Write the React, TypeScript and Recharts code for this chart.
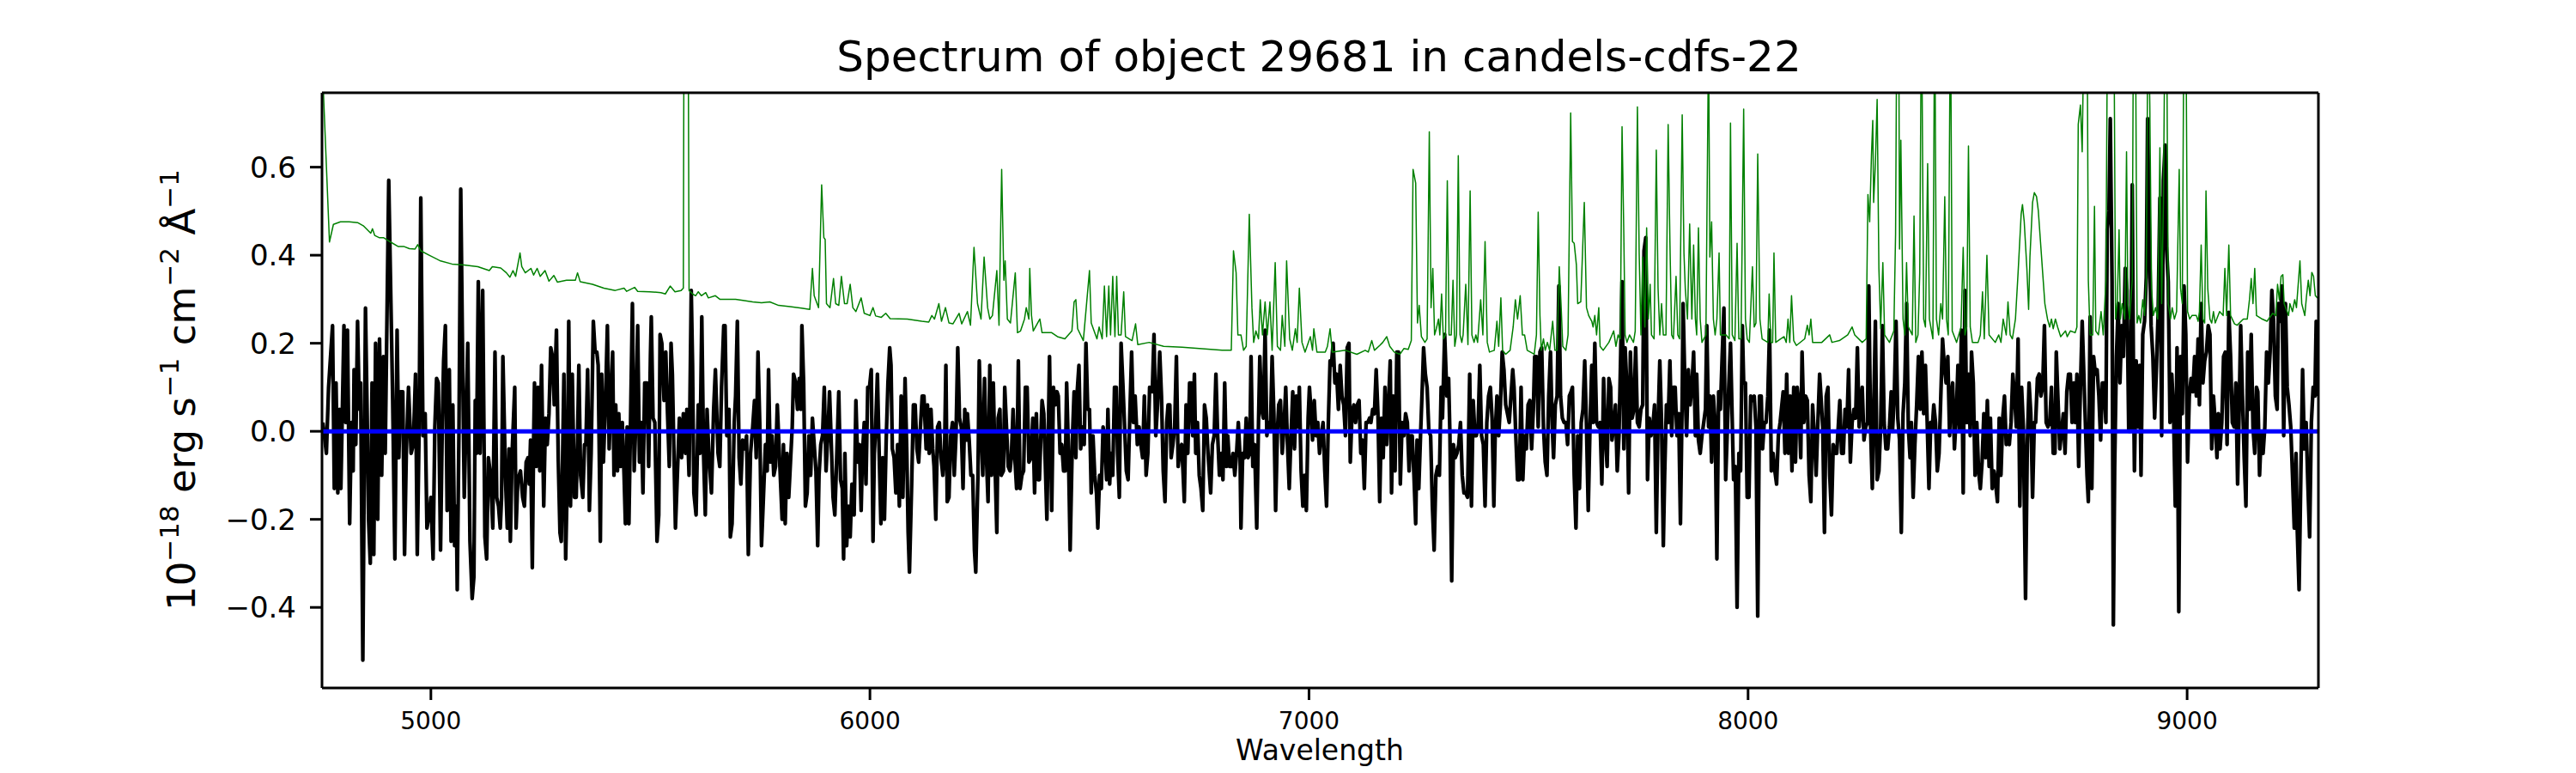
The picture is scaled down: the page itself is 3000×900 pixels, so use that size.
import React from 'react';
import { LineChart, Line, XAxis, YAxis, ReferenceLine } from 'recharts';

type P = [number, number];

const xTicks = [5000, 6000, 7000, 8000, 9000];
const yTicks = [-0.4, -0.2, 0, 0.2, 0.4, 0.6];
const waveRange: [number, number] = [4752, 9299];
const fluxRange: [number, number] = [-0.583, 0.769];

const titleText = 'Spectrum of object 29681 in candels-cdfs-22';
const xLabelText = 'Wavelength';

// observed spectrum (black)
const flux1: P[] = [[4754,0.02],[4762,-0.05],[4767,0.10],[4776,0.24],[4780,-0.13],[4784,0.11],[4788,-0.14],[4792,0.05],[4795,-0.13],[4802,0.24],[4806,0.02],[4810,0.23],[4815,-0.21],[4819,0.02],[4823,-0.09],[4825,0.14],[4829,-0.03],[4833,0.25],[4837,0.05],[4840,0.11],[4845,-0.52],[4851,0.28],[4855,0.03],[4858,-0.20],[4862,-0.30],[4866,0.11],[4870,-0.28],[4874,0.20],[4879,-0.20],[4883,0.21],[4888,-0.10],[4892,0.17],[4896,-0.05],[4904,0.57],[4909,0.29],[4913,0.07],[4918,-0.29],[4923,0.23],[4927,-0.06],[4931,0.09],[4936,0.09],[4940,-0.28],[4944,-0.05],[4949,0.10],[4955,-0.05],[4960,-0.03],[4965,0.13],[4969,-0.28],[4973,-0.01],[4977,0.53],[4982,-0.01],[4987,0.04],[4991,-0.22],[4996,-0.19],[5000,-0.15],[5005,-0.29],[5009,0.01],[5013,0.12],[5017,0.11],[5022,-0.27],[5026,0.02],[5029,0.16],[5033,0.24],[5037,-0.18],[5042,0.14],[5046,-0.25],[5050,0.06],[5054,-0.26],[5058,-0.17],[5060,-0.36],[5064,0.01],[5068,0.55],[5073,0.10],[5076,-0.15],[5079,-0.02],[5084,0.20],[5089,-0.25],[5094,-0.38],[5098,-0.33],[5101,0.07],[5104,-0.05],[5108,0.34],[5112,-0.05],[5118,0.32],[5123,-0.24],[5127,-0.29],[5131,-0.06],[5136,-0.10],[5141,-0.22],[5146,0.18],[5150,-0.15],[5154,-0.17],[5158,-0.22],[5161,-0.15],[5164,0.17],[5170,-0.11],[5174,-0.22],[5178,-0.04],[5181,-0.25],[5185,-0.05],[5191,0.10],[5194,-0.22],[5198,-0.11],[5204,-0.09],[5209,-0.15],[5213,-0.17],[5217,-0.07],[5221,-0.06],[5224,-0.12],[5227,-0.02],[5231,-0.31],[5234,-0.02],[5236,0.11],[5240,-0.08],[5244,0.10],[5248,-0.09],[5252,0.15],[5257,-0.17],[5261,0.03],[5265,-0.03],[5269,0.04],[5273,0.19],[5277,0.17],[5281,0.06],[5286,0.23],[5290,-0.06],[5294,-0.23],[5297,-0.25],[5303,0.13],[5307,-0.29],[5311,-0.09],[5314,0.25],[5318,-0.17],[5322,0.13],[5327,-0.15],[5331,-0.15],[5334,-0.02],[5337,0.15],[5341,-0.10],[5346,-0.15],[5350,-0.03],[5353,-0.03],[5357,0.14],[5361,-0.18],[5365,-0.05],[5370,0.25],[5374,0.18],[5378,0.18],[5381,0.15],[5386,-0.25],[5389,0.13],[5393,-0.07],[5398,0.08],[5402,0.24],[5406,-0.04],[5410,0.08],[5414,0.18],[5417,-0.10],[5421,0.06],[5425,-0.09],[5428,0.04],[5432,-0.08],[5436,0.02],[5440,-0.10],[5443,-0.21],[5447,0.01],[5451,-0.21],[5455,0.04],[5459,0.29],[5463,-0.09],[5467,0.03],[5471,0.24],[5475,-0.07],[5479,0.02],[5483,-0.14],[5487,0.11],[5492,0.11],[5496,-0.08],[5500,0.17],[5502,0.26],[5506,0.03],[5510,0.02],[5515,-0.25],[5519,-0.19],[5522,0.22],[5526,0.20],[5531,0.07],[5535,0.18],[5539,0.04],[5543,-0.08],[5547,0.20],[5550,0.13],[5557,-0.22],[5566,0.03],[5571,-0.06]];

const flux2: P[] = [[5575,0.04],[5580,-0.05],[5583,0.05],[5588,-0.10],[5593,0.32],[5596,0.15],[5599,-0.14],[5604,-0.19],[5609,0.06],[5613,-0.05],[5617,0.26],[5621,-0.05],[5625,-0.19],[5629,0.05],[5633,-0.05],[5639,-0.14],[5644,0.05],[5648,0.14],[5654,-0.05],[5658,-0.08],[5662,0.10],[5667,0.24],[5670,0.24],[5674,-0.01],[5679,0.05],[5682,-0.24],[5686,-0.21],[5691,0.02],[5694,0.08],[5698,0.25],[5702,-0.06],[5706,-0.12],[5710,-0.02],[5715,-0.04],[5719,-0.01],[5723,-0.28],[5728,-0.05],[5733,0.01],[5737,0.07],[5741,-0.06],[5745,0.18],[5749,0.02],[5753,-0.26],[5757,-0.16],[5762,-0.03],[5766,-0.09],[5769,0.14],[5773,-0.07],[5777,-0.01],[5781,-0.10],[5785,-0.08],[5789,0.06],[5794,-0.06],[5800,-0.20],[5803,-0.03],[5807,-0.21],[5811,-0.05],[5815,-0.15],[5819,-0.07],[5823,0.01],[5826,0.13],[5831,0.11],[5835,0.05],[5839,0.12],[5843,0.05],[5845,0.24],[5849,0.11],[5853,-0.17],[5857,-0.14],[5861,-0.01],[5865,-0.10],[5869,0.03],[5873,-0.03],[5877,-0.09],[5881,-0.26],[5884,-0.10],[5888,-0.03],[5892,-0.01],[5896,0.10],[5900,-0.09],[5904,-0.01],[5908,0.09],[5912,-0.03],[5916,-0.15],[5920,-0.19],[5923,-0.10],[5929,0.09],[5933,-0.11],[5937,-0.13],[5940,-0.29],[5943,-0.05],[5947,-0.26],[5951,-0.17],[5955,-0.24],[5959,-0.12],[5964,-0.19],[5968,0.07],[5972,-0.07],[5976,-0.03],[5980,-0.18],[5983,-0.05],[5987,0.02],[5991,-0.12],[5995,0.10],[5999,0.10],[6003,0.14],[6007,-0.25],[6010,-0.05],[6013,0.01],[6017,0.13],[6021,-0.05],[6025,-0.21],[6029,-0.06],[6033,-0.20],[6037,-0.02],[6041,0.11],[6045,0.19],[6048,0.15],[6051,-0.04],[6055,-0.06],[6059,-0.14],[6063,-0.03],[6067,-0.17],[6071,0.08],[6075,-0.15],[6080,0.12],[6084,-0.05],[6087,-0.23],[6090,-0.32],[6095,-0.12],[6099,0.06],[6103,0.06],[6107,-0.04],[6111,-0.07],[6115,0.01],[6119,0.08],[6123,0.08],[6128,-0.04],[6131,0.06],[6135,-0.05],[6139,0.05],[6143,-0.04],[6146,-0.08],[6150,-0.20],[6154,0.01],[6158,0.02],[6162,-0.06],[6166,-0.10],[6170,-0.04],[6173,0.15],[6176,-0.16],[6180,-0.15],[6184,-0.01],[6188,0.02],[6192,-0.10],[6196,-0.01],[6200,0.19],[6204,0.03],[6208,0.01],[6212,-0.13],[6216,0.05],[6219,-0.02],[6222,0.04],[6226,-0.02],[6230,-0.10],[6234,-0.10],[6238,-0.27],[6241,-0.32],[6246,-0.10],[6249,0.16],[6253,0.01],[6257,-0.10],[6261,0.12],[6265,-0.05],[6269,-0.16],[6273,0.15],[6277,-0.10],[6281,0.11],[6285,-0.08],[6289,-0.23],[6292,0.03],[6296,0.05],[6299,-0.10],[6304,-0.09],[6307,0.10],[6311,0.01],[6315,-0.08],[6319,-0.09],[6322,-0.06],[6326,0.05],[6330,-0.06],[6334,-0.13],[6338,0.16],[6342,-0.13],[6346,-0.10],[6350,-0.09],[6354,0.10],[6358,0.10],[6362,-0.07]];

const flux3: P[] = [[6367,-0.06],[6371,0.03],[6375,-0.14],[6379,0.04],[6383,-0.11],[6386,-0.11],[6392,0.07],[6396,0.04],[6399,-0.06],[6403,-0.20],[6409,0.17],[6411,0.03],[6414,-0.18],[6418,0.10],[6422,0.06],[6426,0.09],[6429,0.08],[6433,-0.05],[6437,-0.03],[6441,-0.09],[6445,-0.09],[6448,0.11],[6452,-0.04],[6456,-0.27],[6461,-0.02],[6465,0.09],[6469,-0.06],[6472,0.09],[6476,0.15],[6480,-0.04],[6484,0.01],[6488,-0.03],[6492,0.20],[6496,0.05],[6500,0.05],[6504,-0.14],[6508,-0.01],[6512,-0.10],[6516,-0.14],[6519,-0.22],[6523,-0.10],[6527,-0.13],[6531,0.01],[6535,-0.02],[6539,-0.11],[6542,0.05],[6546,-0.12],[6549,-0.05],[6553,-0.10],[6557,0.10],[6561,0.10],[6564,-0.05],[6568,-0.15],[6572,0.20],[6576,0.11],[6580,0.01],[6584,-0.09],[6588,-0.11],[6592,0.04],[6596,0.18],[6600,0.02],[6604,0.08],[6609,-0.03],[6613,0.01],[6617,-0.03],[6621,-0.06],[6625,0.08],[6629,-0.10],[6633,-0.05],[6637,0.10],[6643,0.09],[6647,0.22],[6651,-0.01],[6655,0.06],[6660,0.18],[6664,0.08],[6668,-0.09],[6672,-0.16],[6676,0.02],[6679,0.06],[6683,0.06],[6686,-0.06],[6690,-0.03],[6694,0.01],[6698,0.17],[6702,-0.08],[6706,-0.04],[6710,-0.03],[6713,-0.09],[6716,-0.16],[6720,0.06],[6724,-0.05],[6728,0.11],[6732,0.11],[6735,-0.01],[6739,0.13],[6742,-0.05],[6746,0.02],[6750,-0.10],[6754,-0.13],[6758,-0.18],[6762,0.06],[6766,0.03],[6770,-0.05],[6774,-0.11],[6776,-0.14],[6780,-0.03],[6784,-0.01],[6788,0.13],[6792,-0.01],[6796,-0.10],[6800,-0.05],[6804,-0.11],[6808,0.11],[6812,-0.08],[6815,-0.01],[6819,-0.08],[6823,-0.08],[6827,-0.05],[6831,-0.10],[6835,-0.05],[6839,0.02],[6843,-0.06],[6845,-0.22],[6849,-0.05],[6853,-0.06],[6857,0.03],[6861,-0.06],[6865,-0.05],[6868,0.17],[6872,-0.08],[6876,-0.03],[6881,-0.22],[6885,0.02],[6888,0.17],[6892,0.05],[6896,0.03],[6900,0.23],[6904,-0.01],[6908,0.02],[6912,0.00],[6916,0.17],[6920,0.04],[6924,-0.18],[6928,0.00],[6931,0.06],[6935,0.07],[6939,-0.05],[6943,0.01],[6947,0.10],[6951,-0.03],[6955,-0.13],[6959,-0.01],[6963,0.09],[6967,-0.04],[6971,0.08],[6975,0.01],[6978,0.10],[6982,-0.09],[6986,-0.17],[6990,-0.10],[6994,-0.18],[6998,0.03],[7001,0.10],[7005,0.04],[7008,-0.02],[7012,0.07],[7016,-0.01],[7020,0.02],[7024,-0.05],[7028,-0.01],[7032,0.02],[7036,-0.09],[7040,-0.17],[7044,0.02],[7048,0.16],[7051,0.15],[7055,0.20],[7059,0.11],[7063,0.13],[7067,0.05],[7071,0.15],[7075,0.08],[7079,0.06],[7083,-0.01],[7087,0.19],[7091,0.20],[7094,-0.07],[7098,0.04],[7102,0.06],[7106,0.02],[7110,0.06],[7114,0.07],[7118,-0.05],[7122,-0.02],[7126,-0.13],[7130,0.02],[7134,0.02],[7138,0.03],[7141,0.02],[7145,0.05],[7149,0.04],[7153,0.14],[7157,0.04],[7161,-0.16]];

const flux4: P[] = [[7165,0.03],[7169,-0.06],[7173,0.10],[7177,-0.03],[7181,0.06],[7185,0.16],[7188,-0.14],[7192,0.08],[7196,-0.09],[7200,0.18],[7204,0.18],[7208,-0.12],[7212,0.02],[7216,-0.01],[7220,0.04],[7224,0.02],[7228,-0.09],[7231,-0.01],[7235,-0.01],[7239,-0.10],[7243,-0.21],[7246,-0.02],[7250,-0.13],[7254,-0.01],[7258,0.10],[7261,0.19],[7265,0.13],[7269,0.10],[7273,0.00],[7277,-0.01],[7281,-0.17],[7285,-0.27],[7289,-0.10],[7293,-0.08],[7297,-0.10],[7301,0.10],[7304,0.03],[7309,0.22],[7314,0.08],[7318,0.12],[7321,-0.01],[7325,-0.34],[7329,-0.03],[7333,-0.06],[7337,-0.05],[7341,-0.03],[7345,0.02],[7349,-0.10],[7353,-0.14],[7357,-0.14],[7361,-0.15],[7366,0.13],[7370,-0.17],[7374,0.07],[7378,-0.01],[7381,-0.01],[7385,0.01],[7389,0.15],[7393,-0.01],[7397,-0.03],[7401,-0.17],[7405,0.02],[7409,0.08],[7413,0.10],[7417,0.03],[7421,-0.17],[7424,-0.01],[7428,0.08],[7432,-0.01],[7436,0.06],[7440,0.18],[7444,0.14],[7448,0.06],[7452,0.04],[7456,0.02],[7460,0.08],[7464,0.14],[7467,0.10],[7471,-0.01],[7475,-0.11],[7479,-0.11],[7483,0.10],[7487,-0.11],[7491,-0.01],[7495,-0.04],[7499,0.06],[7503,0.07],[7507,-0.04],[7511,0.05],[7514,0.17],[7518,0.17],[7522,0.01],[7526,0.18],[7530,0.19],[7534,0.01],[7538,-0.07],[7542,-0.10],[7546,0.08],[7550,0.18],[7554,0.01],[7557,-0.06],[7561,0.06],[7565,0.08],[7569,0.33],[7573,0.08],[7577,0.03],[7581,0.02],[7585,0.02],[7589,-0.03],[7593,0.08],[7597,0.09],[7600,0.10],[7604,-0.10],[7608,-0.22],[7612,-0.01],[7616,-0.13],[7620,0.02],[7624,0.05],[7628,0.16],[7632,0.01],[7636,-0.18],[7640,0.01],[7644,0.15],[7647,0.02],[7651,0.20],[7655,0.02],[7659,0.01],[7663,0.02],[7667,-0.12],[7671,0.12],[7675,-0.01],[7679,-0.08],[7683,0.12],[7687,0.10],[7690,-0.02],[7694,0.01],[7698,0.06],[7702,-0.09],[7706,-0.01],[7710,0.18],[7713,0.34],[7717,-0.04],[7720,0.19],[7724,0.10],[7728,-0.14],[7732,0.18],[7736,0.03],[7740,0.05],[7744,0.19],[7748,0.02],[7752,0.01],[7756,0.05],[7760,0.06],[7763,0.41],[7767,0.44],[7771,-0.11],[7775,0.03],[7779,-0.01],[7783,0.01],[7787,0.06],[7791,-0.23],[7795,0.02],[7799,0.16],[7803,0.02],[7807,-0.26],[7810,-0.10],[7814,0.06],[7818,0.02],[7822,0.16],[7826,-0.01],[7830,0.10],[7834,0.10],[7838,-0.01],[7842,0.04],[7846,-0.21],[7850,0.08],[7852,0.29],[7856,0.11],[7860,-0.01],[7864,0.14],[7868,0.06],[7872,0.10],[7876,0.18],[7880,-0.01],[7883,0.13],[7887,-0.02],[7891,-0.05],[7895,-0.01],[7899,0.02],[7903,0.05],[7906,0.24],[7910,0.01],[7913,0.08],[7917,-0.07],[7921,0.08],[7925,0.02],[7929,-0.29],[7933,0.09],[7937,0.05],[7941,0.17],[7945,0.28],[7949,-0.11],[7953,0.01],[7956,0.10],[7960,0.20]];

const flux5: P[] = [[7967,-0.11],[7971,-0.08],[7975,-0.40],[7979,-0.05],[7983,-0.09],[7987,0.24],[7990,0.11],[7994,0.11],[7998,-0.15],[8002,-0.15],[8006,0.08],[8010,0.07],[8014,0.08],[8018,0.01],[8022,-0.42],[8026,0.08],[8030,0.08],[8033,-0.04],[8037,0.02],[8041,0.02],[8045,0.08],[8049,0.23],[8053,-0.09],[8057,-0.05],[8061,-0.09],[8065,-0.12],[8069,-0.01],[8073,0.02],[8076,0.05],[8080,0.09],[8084,-0.05],[8088,0.13],[8092,-0.05],[8096,0.08],[8100,-0.09],[8104,0.10],[8108,-0.07],[8112,0.10],[8116,0.06],[8120,-0.06],[8123,0.18],[8127,0.02],[8131,0.08],[8135,0.07],[8139,-0.10],[8143,-0.16],[8147,0.06],[8151,-0.01],[8155,-0.10],[8159,0.02],[8163,0.13],[8166,0.08],[8170,0.01],[8174,-0.23],[8178,0.08],[8182,0.10],[8186,-0.10],[8190,-0.19],[8194,-0.03],[8198,-0.05],[8202,-0.05],[8206,0.02],[8209,0.07],[8213,-0.05],[8217,-0.05],[8221,0.05],[8225,0.01],[8229,0.14],[8233,-0.07],[8237,0.02],[8241,0.05],[8245,0.03],[8249,0.19],[8253,0.01],[8256,0.05],[8260,0.10],[8264,-0.02],[8268,0.01],[8272,0.02],[8275,0.33],[8279,0.01],[8283,-0.13],[8286,0.04],[8290,0.25],[8294,-0.11],[8298,-0.09],[8302,0.01],[8306,0.24],[8310,0.02],[8314,-0.04],[8318,-0.04],[8322,0.01],[8326,0.09],[8329,0.00],[8333,0.08],[8337,0.25],[8341,0.03],[8345,-0.02],[8349,-0.23],[8353,0.04],[8357,0.11],[8361,0.29],[8365,0.01],[8369,-0.06],[8372,0.02],[8376,-0.15],[8380,-0.03],[8384,0.06],[8388,0.17],[8392,0.05],[8396,0.18],[8400,0.04],[8404,0.15],[8408,0.02],[8412,-0.13],[8416,0.02],[8419,0.00],[8423,0.06],[8427,0.02],[8431,-0.09],[8435,-0.05],[8439,0.08],[8443,0.21],[8447,0.15],[8451,0.11],[8455,0.17],[8459,-0.01],[8462,0.08],[8466,0.11],[8470,-0.04],[8474,0.03],[8478,0.15],[8482,0.00],[8486,0.23],[8490,-0.14],[8494,0.32],[8498,0.02],[8502,0.13],[8506,-0.01],[8509,0.18],[8513,0.11],[8517,-0.10],[8521,0.02],[8525,-0.09],[8529,-0.13],[8533,-0.07],[8537,0.04],[8541,-0.06],[8545,0.07],[8549,-0.08],[8552,0.03],[8556,-0.13],[8560,-0.09],[8564,-0.12],[8568,-0.16],[8572,0.03],[8576,-0.10],[8580,0.03],[8584,0.08],[8588,-0.03],[8592,-0.01],[8595,-0.03],[8599,0.02],[8603,0.13],[8607,0.08],[8611,0.01],[8615,0.21],[8619,-0.17],[8623,0.10],[8627,0.01],[8632,-0.38],[8636,-0.03],[8640,0.11],[8644,0.04],[8648,-0.15],[8652,0.02],[8655,0.02],[8659,0.12],[8663,0.13],[8667,0.08],[8671,0.10],[8675,0.24],[8679,0.02],[8683,0.01],[8687,0.02],[8691,0.10],[8695,-0.05],[8699,-0.05],[8702,0.18],[8706,0.07],[8710,-0.04],[8714,0.00],[8718,0.04],[8722,-0.05],[8726,0.09],[8730,0.13],[8734,0.13],[8738,0.02],[8742,0.11],[8745,0.02],[8749,0.13],[8753,-0.08],[8757,0.10],[8761,0.25]];

const flux6: P[] = [[8772,-0.10],[8775,-0.16],[8779,0.26],[8783,-0.13],[8787,0.17],[8791,0.13],[8795,0.14],[8799,0.08],[8803,-0.02],[8807,0.11],[8811,0.11],[8815,0.02],[8818,0.46],[8822,0.50],[8825,0.71],[8829,0.34],[8832,-0.44],[8835,-0.08],[8839,0.17],[8843,0.29],[8847,0.11],[8851,0.24],[8855,0.17],[8859,0.37],[8863,0.32],[8867,0.00],[8871,0.00],[8875,0.56],[8878,0.10],[8880,-0.09],[8884,0.16],[8888,0.01],[8892,0.15],[8895,-0.10],[8899,0.22],[8903,0.25],[8907,0.35],[8910,0.71],[8914,0.44],[8918,0.24],[8922,0.17],[8926,0.03],[8930,0.14],[8934,0.27],[8938,0.53],[8942,-0.01],[8946,0.57],[8950,0.65],[8953,0.42],[8957,0.34],[8961,0.02],[8965,0.13],[8969,0.05],[8973,-0.17],[8977,0.19],[8981,-0.41],[8985,0.17],[8989,0.04],[8993,0.33],[8997,0.22],[9001,-0.07],[9005,0.08],[9009,0.12],[9013,0.09],[9017,0.17],[9021,0.08],[9025,0.21],[9028,0.06],[9032,0.29],[9036,0.11],[9040,0.16],[9044,0.18],[9048,0.24],[9052,0.22],[9056,-0.04],[9060,0.08],[9064,0.02],[9068,-0.06],[9071,0.04],[9075,-0.04],[9079,0.02],[9083,0.17],[9087,0.18],[9091,-0.03],[9095,0.27],[9099,0.17],[9103,0.02],[9107,0.01],[9111,0.11],[9115,-0.12],[9118,0.02],[9122,0.24],[9126,0.08],[9130,-0.06],[9134,-0.17],[9138,0.18],[9142,0.05],[9146,0.22],[9150,0.01],[9154,-0.05],[9158,0.10],[9161,0.09],[9165,-0.10],[9169,0.00],[9173,-0.05],[9177,0.01],[9181,0.18],[9185,0.11],[9189,0.18],[9193,0.32],[9197,0.25],[9201,0.08],[9205,0.05],[9208,0.29],[9212,0.25],[9216,0.33],[9220,-0.01],[9224,0.29],[9228,0.10],[9232,0.06],[9236,0.01],[9240,-0.10],[9244,-0.22],[9248,-0.05],[9251,-0.23],[9255,-0.36],[9259,-0.10],[9263,0.14],[9267,-0.04],[9271,0.02],[9275,-0.12],[9279,-0.24],[9283,0.02],[9287,0.10],[9291,0.08],[9294,0.25],[9298,0.08]];

// sky / noise spectrum (green); values above the frame are clipped sky-line peaks
const sky1: P[] = [[4752,0.85],[4769,0.43],[4778,0.47],[4794,0.476],[4814,0.476],[4833,0.474],[4846,0.467],[4863,0.45],[4867,0.46],[4872,0.445],[4882,0.44],[4892,0.44],[4908,0.43],[4925,0.42],[4938,0.42],[4951,0.415],[4964,0.414],[4970,0.424],[4977,0.41],[4996,0.40],[5022,0.387],[5048,0.38],[5075,0.378],[5107,0.374],[5133,0.365],[5140,0.374],[5159,0.371],[5172,0.36],[5180,0.35],[5187,0.365],[5193,0.352],[5203,0.405],[5207,0.374],[5215,0.36],[5228,0.37],[5234,0.355],[5242,0.37],[5249,0.352],[5260,0.365],[5269,0.341],[5280,0.354],[5288,0.339],[5309,0.343],[5329,0.343],[5334,0.36],[5340,0.34],[5368,0.334],[5394,0.325],[5420,0.32],[5440,0.325],[5446,0.318],[5464,0.327],[5471,0.318],[5498,0.317],[5524,0.315],[5534,0.312],[5545,0.33],[5556,0.317]];

const sky2: P[] = [[5570,0.32],[5575,0.325],[5578,1.6],[5584,1.6],[5588,0.32],[5596,0.312],[5603,0.308],[5609,0.317],[5616,0.308],[5626,0.315],[5632,0.303],[5648,0.308],[5658,0.30],[5674,0.30],[5694,0.30],[5714,0.297],[5733,0.294],[5753,0.292],[5772,0.294],[5792,0.286],[5818,0.283],[5844,0.28],[5863,0.277],[5869,0.37],[5873,0.308],[5883,0.281],[5890,0.56],[5895,0.44],[5898,0.436],[5901,0.29],[5909,0.281],[5917,0.347],[5922,0.29],[5929,0.286],[5935,0.352],[5942,0.29],[5948,0.29],[5955,0.334],[5961,0.281],[5968,0.272],[5980,0.303],[5987,0.268],[6000,0.263],[6007,0.281],[6013,0.262],[6026,0.259],[6036,0.268],[6046,0.256],[6085,0.255],[6118,0.25],[6134,0.248],[6141,0.263],[6147,0.255],[6157,0.29],[6163,0.25],[6172,0.281],[6180,0.246],[6189,0.244],[6203,0.268],[6209,0.244],[6222,0.272],[6229,0.241],[6237,0.418],[6245,0.29],[6253,0.255],[6260,0.396],[6268,0.281],[6273,0.255],[6279,0.263],[6289,0.365],[6294,0.241],[6300,0.595],[6305,0.343],[6308,0.387],[6313,0.255],[6320,0.246],[6331,0.36],[6336,0.224],[6343,0.228],[6352,0.255]];

const sky3: P[] = [[6356,0.281],[6362,0.255],[6364,0.37],[6368,0.263],[6372,0.228],[6387,0.255],[6392,0.224],[6414,0.224],[6427,0.215],[6444,0.21],[6460,0.228],[6465,0.294],[6469,0.299],[6473,0.233],[6486,0.206],[6500,0.365],[6504,0.246],[6517,0.21],[6522,0.237],[6529,0.21],[6534,0.33],[6539,0.215],[6544,0.33],[6548,0.219],[6553,0.352],[6558,0.215],[6562,0.352],[6566,0.219],[6572,0.219],[6578,0.317],[6582,0.215],[6597,0.206],[6605,0.244],[6610,0.197],[6636,0.202],[6669,0.193],[6711,0.191],[6750,0.188],[6802,0.184],[6823,0.184],[6828,0.41],[6834,0.36],[6838,0.219],[6845,0.219],[6851,0.184],[6857,0.193],[6864,0.493],[6870,0.281],[6874,0.202],[6879,0.228],[6885,0.21],[6889,0.299],[6894,0.219],[6900,0.294],[6905,0.219],[6911,0.294],[6916,0.184],[6923,0.383],[6928,0.193],[6935,0.184],[6939,0.263],[6945,0.193],[6949,0.387],[6956,0.21],[6962,0.184],[6969,0.233],[6973,0.202],[6978,0.325],[6984,0.202],[6991,0.18],[7003,0.215],[7008,0.184],[7011,0.233],[7018,0.18],[7037,0.18],[7042,0.193],[7048,0.233],[7053,0.18],[7083,0.184],[7109,0.175],[7128,0.184],[7135,0.18],[7143,0.206],[7149,0.184],[7161,0.195]];

const sky4: P[] = [[7168,0.202],[7177,0.215],[7184,0.193],[7194,0.18],[7207,0.175],[7216,0.188],[7226,0.186],[7233,0.206],[7237,0.595],[7243,0.564],[7247,0.246],[7251,0.286],[7256,0.215],[7264,0.202],[7269,0.21],[7274,0.68],[7278,0.281],[7282,0.37],[7286,0.219],[7290,0.233],[7295,0.255],[7298,0.219],[7302,0.312],[7306,0.21],[7311,0.219],[7315,0.569],[7319,0.219],[7324,0.219],[7328,0.343],[7332,0.193],[7336,0.219],[7340,0.626],[7344,0.219],[7348,0.202],[7351,0.219],[7357,0.334],[7362,0.197],[7367,0.546],[7371,0.219],[7376,0.202],[7380,0.219],[7384,0.202],[7391,0.299],[7396,0.219],[7401,0.431],[7406,0.202],[7411,0.18],[7422,0.184],[7428,0.25],[7432,0.193],[7437,0.303],[7441,0.184],[7448,0.175],[7458,0.184],[7465,0.237],[7470,0.299],[7475,0.255],[7481,0.308],[7486,0.219],[7491,0.219],[7497,0.184],[7513,0.175],[7518,0.219],[7522,0.498],[7526,0.263],[7529,0.184],[7534,0.21],[7538,0.184],[7543,0.202],[7548,0.184],[7555,0.25],[7560,0.184],[7565,0.184],[7570,0.374],[7574,0.29],[7578,0.193],[7585,0.184],[7590,0.219],[7596,0.723],[7600,0.431],[7604,0.427],[7609,0.378],[7612,0.29],[7619,0.294],[7627,0.52],[7632,0.281],[7637,0.263],[7644,0.25],[7647,0.237],[7651,0.263],[7655,0.219],[7660,0.281],[7663,0.193],[7670,0.184],[7683,0.202],[7694,0.228],[7699,0.193],[7704,0.219],[7709,0.21],[7713,0.692],[7717,0.449],[7720,0.219],[7724,0.202],[7730,0.219],[7739,0.202],[7743,0.228],[7748,0.737],[7752,0.405],[7756,0.219],[7760,0.396],[7765,0.237],[7769,0.462],[7773,0.255],[7777,0.334],[7780,0.219],[7786,0.21],[7791,0.639],[7795,0.325],[7799,0.219],[7803,0.29],[7807,0.219],[7813,0.219],[7818,0.697],[7822,0.431],[7826,0.219],[7830,0.21],[7836,0.352],[7840,0.219],[7844,0.21],[7850,0.719],[7854,0.405],[7857,0.325],[7862,0.255],[7867,0.471],[7872,0.255],[7876,0.423],[7880,0.255],[7883,0.219],[7887,0.462],[7891,0.255],[7895,0.202],[7904,0.219],[7910,0.9],[7913,0.396],[7917,0.476],[7921,0.255],[7925,0.219],[7929,0.255],[7934,0.405],[7937,0.219],[7950,0.219]];

const sky5: P[] = [[7957,0.21],[7960,0.70],[7964,0.219],[7970,0.206],[7975,0.427],[7979,0.21],[7984,0.21],[7990,0.732],[7994,0.255],[7998,0.21],[8003,0.202],[8010,0.374],[8014,0.237],[8018,0.246],[8022,0.63],[8027,0.255],[8032,0.21],[8045,0.202],[8048,0.312],[8052,0.202],[8056,0.202],[8059,0.405],[8063,0.202],[8074,0.21],[8082,0.215],[8087,0.202],[8091,0.255],[8095,0.202],[8099,0.308],[8104,0.206],[8110,0.195],[8129,0.21],[8135,0.241],[8139,0.219],[8143,0.255],[8147,0.202],[8168,0.202],[8186,0.219],[8191,0.202],[8208,0.206],[8227,0.219],[8237,0.237],[8243,0.219],[8260,0.202],[8269,0.21],[8273,0.538],[8277,0.476],[8281,0.626],[8284,0.706],[8286,0.52],[8290,0.608],[8294,0.754],[8298,0.37],[8302,0.233],[8307,0.383],[8311,0.219],[8322,0.202],[8332,0.228],[8336,0.449],[8339,1.0],[8343,1.0],[8345,0.414],[8348,0.661],[8353,0.255],[8357,0.219],[8361,0.383],[8365,0.237],[8374,0.219],[8378,0.489],[8382,0.202],[8387,0.219],[8391,0.36],[8395,1.0],[8400,0.255],[8404,0.237],[8409,0.608],[8413,0.255],[8421,0.21],[8425,1.0],[8429,0.255],[8434,0.219],[8439,0.29],[8443,0.255],[8448,0.533],[8452,0.255],[8456,0.219],[8461,1.0],[8465,0.228],[8475,0.202],[8485,0.237],[8490,0.418],[8494,0.219],[8498,0.237],[8502,0.648],[8506,0.237],[8511,0.202],[8524,0.202],[8529,0.219],[8534,0.317],[8538,0.21],[8544,0.40],[8549,0.219],[8563,0.202],[8571,0.219],[8576,0.202],[8581,0.255],[8588,0.219],[8592,0.294],[8597,0.219],[8602,0.21],[8609,0.255],[8615,0.36],[8622,0.493],[8625,0.515],[8629,0.476],[8635,0.37],[8639,0.277],[8642,0.396],[8648,0.52],[8652,0.542],[8657,0.533],[8661,0.502],[8666,0.431],[8671,0.36],[8676,0.29],[8682,0.255],[8687,0.237],[8691,0.255],[8695,0.233],[8700,0.255],[8705,0.237],[8712,0.215],[8723,0.228],[8727,0.215],[8734,0.228],[8745,0.224],[8749,0.237]];

const sky6: P[] = [[8752,0.697],[8757,0.741],[8761,0.635],[8766,1.0],[8772,1.0],[8775,0.343],[8779,0.219],[8785,0.219],[8789,0.511],[8792,0.228],[8798,0.219],[8804,0.272],[8809,0.219],[8815,0.343],[8819,1.0],[8824,1.0],[8829,1.0],[8833,1.0],[8837,0.255],[8841,0.29],[8845,0.458],[8848,0.255],[8852,0.29],[8858,0.255],[8862,0.635],[8865,0.29],[8869,0.255],[8875,0.343],[8878,1.0],[8882,1.0],[8886,0.246],[8890,0.263],[8894,0.246],[8899,0.299],[8903,0.263],[8907,0.343],[8911,1.0],[8915,0.741],[8919,0.325],[8923,0.263],[8928,0.281],[8933,0.255],[8938,0.644],[8942,0.29],[8946,0.52],[8950,1.0],[8953,1.0],[8957,0.29],[8962,0.255],[8966,0.281],[8971,0.255],[8976,0.272],[8982,0.595],[8985,0.325],[8989,0.29],[8993,1.0],[8997,1.0],[9001,0.272],[9006,0.255],[9011,0.263],[9021,0.263],[9025,0.25],[9028,0.272],[9032,0.423],[9036,0.255],[9040,0.246],[9043,0.546],[9047,0.325],[9052,0.255],[9056,0.246],[9060,0.272],[9064,0.246],[9074,0.272],[9082,0.263],[9086,0.37],[9090,0.263],[9095,0.423],[9099,0.263],[9108,0.244],[9114,0.241],[9128,0.255],[9137,0.255],[9142,0.299],[9146,0.347],[9150,0.29],[9154,0.37],[9158,0.263],[9169,0.256],[9182,0.25],[9195,0.268],[9202,0.263],[9206,0.334],[9210,0.299],[9214,0.352],[9218,0.356],[9221,0.29],[9231,0.263],[9234,0.29],[9240,0.272],[9245,0.299],[9249,0.281],[9253,0.334],[9257,0.387],[9261,0.29],[9268,0.263],[9272,0.308],[9276,0.343],[9280,0.308],[9284,0.361],[9288,0.352],[9292,0.308],[9297,0.303]];

// zero-level model (blue)
const zeroLevel: P[] = [[4752, 0], [9299, 0]];

const toRows = (parts: P[][]) => parts.flat().map(([w, v]) => ({ w, v }));

const fluxRows = toRows([flux1, flux2, flux3, flux4, flux5, flux6]);
const skyRows = toRows([sky1, sky2, sky3, sky4, sky5, sky6]);
const zeroRows = toRows([zeroLevel]);

const FONT = 'DejaVu Sans';
const fmtY = (v: number) => (v < 0 ? '\u2212' : '') + Math.abs(v).toFixed(1);

export default function App() {
  const axisStyle = { stroke: '#000', strokeWidth: 3 };
  return (
    <div style={{ position: 'absolute', left: 0, top: 0, width: 3000, height: 900, background: '#fff' }}>
      <LineChart width={3000} height={900} margin={{ top: 108, right: 300, bottom: 39, left: 275 }}>
        <XAxis
          dataKey="w"
          type="number"
          domain={waveRange}
          ticks={xTicks}
          interval={0}
          allowDataOverflow
          height={60}
          tickSize={14}
          tickMargin={14}
          tick={{ fontSize: 28, fill: '#000', fontFamily: FONT }}
          axisLine={axisStyle}
          tickLine={axisStyle}
        />
        <YAxis
          type="number"
          domain={fluxRange}
          ticks={yTicks}
          interval={0}
          allowDataOverflow
          width={100}
          tickSize={14}
          tickMargin={16}
          tickFormatter={fmtY}
          tick={{ fontSize: 34, fill: '#000', fontFamily: FONT }}
          axisLine={axisStyle}
          tickLine={axisStyle}
        />
        <Line data={fluxRows} dataKey="v" type="linear" stroke="#000000" strokeWidth={4.3} strokeLinejoin="round" dot={false} activeDot={false} isAnimationActive={false} />
        <Line data={skyRows} dataKey="v" type="linear" stroke="#008000" strokeWidth={1.5} strokeLinejoin="round" dot={false} activeDot={false} isAnimationActive={false} />
        <Line data={zeroRows} dataKey="v" type="linear" stroke="#0000ff" strokeWidth={5} dot={false} activeDot={false} isAnimationActive={false} />
        <ReferenceLine y={fluxRange[1]} stroke="#000" strokeWidth={3} ifOverflow="visible" />
        <ReferenceLine x={waveRange[1]} stroke="#000" strokeWidth={3} ifOverflow="visible" />
      </LineChart>
      <svg width={3000} height={900} style={{ position: 'absolute', left: 0, top: 0, pointerEvents: 'none' }}>
        <text x={1536} y={83} textAnchor="middle" fontSize={50} fontFamily={FONT} fill="#000">{titleText}</text>
        <text x={1537} y={885} textAnchor="middle" fontSize={33} fontFamily={FONT} fill="#000">{xLabelText}</text>
        <text
          x={227}
          y={454}
          textAnchor="middle"
          fontSize={45}
          fontFamily={FONT}
          fill="#000"
          transform="rotate(-90 227 454)"
          style={{ whiteSpace: 'pre' }}
        >
          <tspan>10</tspan>
          <tspan fontSize={31} dy={-19}>{'\u221218'}</tspan>
          <tspan dy={19}>{' erg s'}</tspan>
          <tspan fontSize={31} dy={-19}>{'\u22121'}</tspan>
          <tspan dy={19}>{' cm'}</tspan>
          <tspan fontSize={31} dy={-19}>{'\u22122'}</tspan>
          <tspan dy={19}>{' \u00c5'}</tspan>
          <tspan fontSize={31} dy={-19}>{'\u22121'}</tspan>
        </text>
      </svg>
    </div>
  );
}
